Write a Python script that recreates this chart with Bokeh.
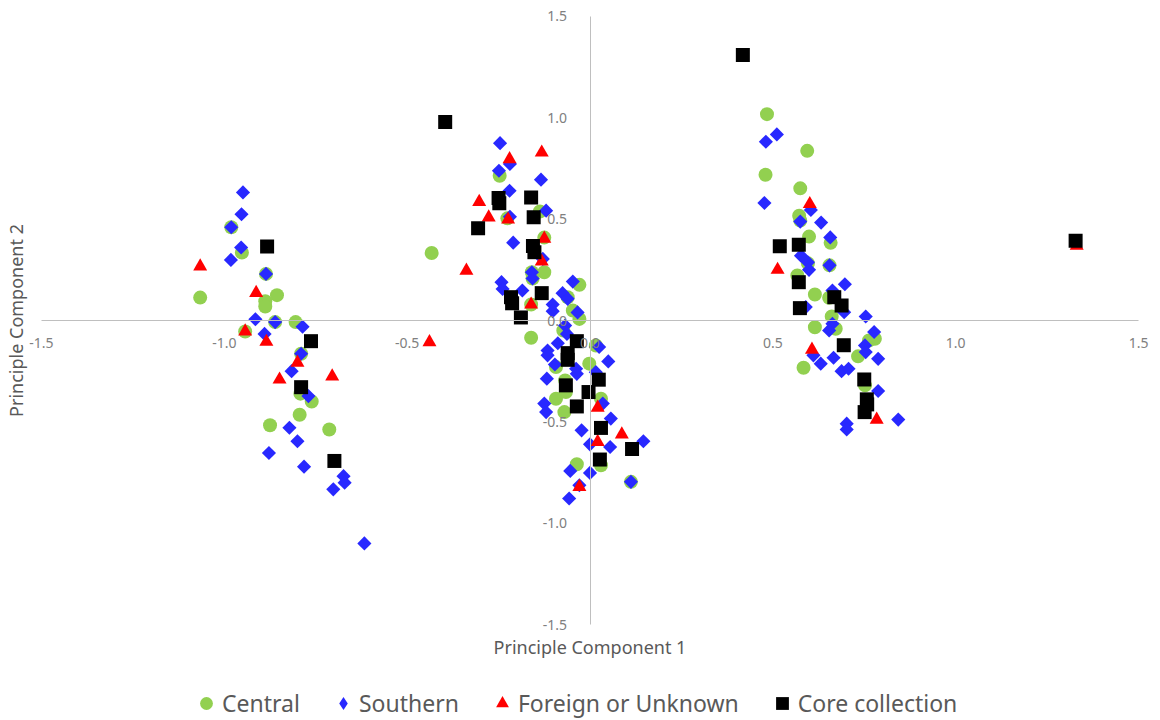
import numpy as np
from bokeh.plotting import figure
from bokeh.layouts import column
from bokeh.models import (ColumnDataSource, LinearAxis, FixedTicker, NumeralTickFormatter,
                          Legend, LegendItem)
from bokeh.embed import file_html
from bokeh.resources import INLINE

# ---------------- data ----------------
central_x = [-0.981, -0.952, -0.886, -1.066, -0.856, -0.888, -0.888, -0.861, -0.805, -0.943,
             -0.790, -0.792, -0.761, -0.794, -0.875, -0.713,
             -0.247, -0.137, -0.226, -0.125, -0.433, -0.125, -0.159, -0.157, -0.029, -0.061,
             -0.161, -0.047, -0.029, -0.073, -0.161, 0.016, -0.002, -0.093, -0.068, -0.066,
             -0.093, -0.070, 0.030, 0.030, -0.036, 0.112,
             0.484, 0.594, 0.480, 0.575, 0.572, 0.575, 0.599, 0.658, 0.596, 0.655,
             0.567, 0.615, 0.654, 0.661, 0.615, 0.672, 0.779, 0.763, 0.733, 0.584, 0.752]
central_y = [0.460, 0.335, 0.230, 0.113, 0.125, 0.095, 0.069, -0.008, -0.008, -0.054,
             -0.164, -0.361, -0.400, -0.465, -0.517, -0.538,
             0.714, 0.538, 0.504, 0.409, 0.333, 0.238, 0.238, 0.207, 0.176, 0.115,
             0.079, 0.049, 0.008, -0.049, -0.085, -0.123, -0.213, -0.230, -0.296, -0.353,
             -0.386, -0.452, -0.386, -0.714, -0.709, -0.796,
             1.018, 0.837, 0.719, 0.652, 0.517, 0.493, 0.414, 0.383, 0.282, 0.272,
             0.222, 0.128, 0.112, 0.020, -0.033, -0.041, -0.090, -0.099, -0.177, -0.233, -0.320]

southern_x = [-0.949, -0.953, -0.981, -0.954, -0.982, -0.886, -0.915, -0.861, -0.786, -0.890,
              -0.790, -0.816, -0.770, -0.822, -0.800, -0.878, -0.782, -0.674, -0.671, -0.702,
              -0.617,
              -0.246, -0.219, -0.249, -0.134, -0.220, -0.120, -0.219, -0.210, -0.129, -0.159,
              -0.157, -0.242, -0.239, -0.185, -0.047, -0.075, -0.061, -0.102, -0.102, -0.034,
              -0.068, -0.063, -0.088, -0.116, -0.116, 0.025, 0.050, -0.096, -0.038, -0.036,
              0.016, -0.118, -0.125, -0.120, 0.035, 0.057, -0.023, 0.146, 0.000, 0.055,
              -0.054, 0.000, 0.112, -0.029, -0.057,
              0.511, 0.481, 0.477, 0.604, 0.575, 0.632, 0.657, 0.577, 0.596, 0.599,
              0.655, 0.697, 0.663, 0.590, 0.695, 0.754, 0.663, 0.654, 0.777, 0.752,
              0.754, 0.611, 0.631, 0.666, 0.788, 0.688, 0.707, 0.788, 0.843, 0.702, 0.702]
southern_y = [0.632, 0.524, 0.460, 0.360, 0.299, 0.230, 0.006, -0.008, -0.031, -0.066,
              -0.164, -0.250, -0.373, -0.529, -0.596, -0.654, -0.721, -0.768, -0.800, -0.833,
              -1.100,
              0.875, 0.772, 0.739, 0.695, 0.640, 0.542, 0.512, 0.384, 0.304, 0.238,
              0.207, 0.189, 0.156, 0.148, 0.192, 0.135, 0.107, 0.079, 0.046, 0.040,
              -0.025, -0.066, -0.112, -0.148, -0.172, -0.131, -0.202, -0.217, -0.238, -0.263,
              -0.255, -0.287, -0.410, -0.452, -0.410, -0.484, -0.542, -0.596, -0.611, -0.624,
              -0.742, -0.752, -0.796, -0.813, -0.878,
              0.918, 0.882, 0.580, 0.545, 0.488, 0.483, 0.410, 0.320, 0.287, 0.250,
              0.272, 0.179, 0.148, 0.066, 0.041, 0.020, -0.016, -0.049, -0.057, -0.123,
              -0.156, -0.172, -0.213, -0.184, -0.189, -0.250, -0.238, -0.348, -0.489, -0.509, -0.538]

foreign_x = [-1.066, -0.913, -0.943, -0.885, -0.800, -0.849, -0.705,
             -0.132, -0.220, -0.303, -0.277, -0.224, -0.125, -0.132, -0.338, -0.161,
             -0.439, 0.021, 0.087, 0.021, -0.029,
             0.601, 0.513, 0.607, 0.784, 1.331]
foreign_y = [0.267, 0.136, -0.054, -0.105, -0.208, -0.291, -0.276,
             0.829, 0.796, 0.585, 0.509, 0.498, 0.404, 0.291, 0.246, 0.079,
             -0.107, -0.430, -0.562, -0.599, -0.821,
             0.575, 0.250, -0.144, -0.489, 0.369]

core_x = [-0.883, -0.763, -0.790, -0.699,
          -0.396, -0.250, -0.248, -0.161, -0.154, -0.306, -0.156, -0.152, -0.132, -0.216,
          -0.213, -0.189, -0.036, -0.061, -0.061, 0.024, -0.066, -0.004, -0.036, 0.030,
          0.115, 0.027,
          0.418, 0.519, 0.571, 0.571, 0.668, 0.688, 0.574, 0.694, 0.750, 0.757, 0.758,
          0.751, 1.328]
core_y = [0.365, -0.102, -0.329, -0.693,
          0.980, 0.604, 0.578, 0.607, 0.509, 0.455, 0.368, 0.337, 0.135, 0.115,
          0.085, 0.015, -0.102, -0.161, -0.194, -0.292, -0.320, -0.353, -0.424, -0.530,
          -0.634, -0.686,
          1.310, 0.366, 0.374, 0.189, 0.115, 0.074, 0.061, -0.122, -0.291, -0.389, -0.414,
          -0.452, 0.394]

ticks = [-1.5, -1.0, -0.5, 0.0, 0.5, 1.0, 1.5]
series_names = ["Central", "Southern", "Foreign or Unknown", "Core collection"]
x_title = "Principle Component 1"
y_title = "Principle Component 2"

FONT = "Noto Sans"
COLORS = ["#92D050", "#2828FF", "#FF0000", "#000000"]

# small padding beyond +-1.5 so edge tick labels are not clipped
XPAD = 14 / 366.0
YPAD = 10 / 203.0

p = figure(width=1160, height=672,
           x_range=(-1.5 - XPAD, 1.5 + XPAD), y_range=(-1.5 - YPAD, 1.5 + YPAD),
           output_backend="svg", toolbar_location=None,
           x_axis_type=None, y_axis_type=None,
           min_border_left=26, min_border_right=8, min_border_top=6, min_border_bottom=38)
p.outline_line_color = None

# axes crossing at zero
xaxis = LinearAxis(fixed_location=0, ticker=FixedTicker(ticks=ticks),
                   formatter=NumeralTickFormatter(format="0.0"), bounds=(-1.5, 1.5))
yaxis = LinearAxis(fixed_location=0, ticker=FixedTicker(ticks=ticks),
                   formatter=NumeralTickFormatter(format="0.0"), bounds=(-1.5, 1.5))
for ax in (xaxis, yaxis):
    ax.axis_line_color = "#BFBFBF"
    ax.axis_line_width = 1
    ax.major_tick_line_color = None
    ax.minor_tick_line_color = None
    ax.major_tick_out = 0
    ax.major_tick_in = 0
    ax.minor_tick_out = 0
    ax.minor_tick_in = 0
    ax.major_label_text_font = FONT
    ax.major_label_text_font_size = "14px"
    ax.major_label_text_color = "#808080"
xaxis.major_label_standoff = 17
yaxis.major_label_standoff = 23
p.add_layout(xaxis, "below")
p.add_layout(yaxis, "left")

# axis titles (outer axes without ticks)
xt = LinearAxis(ticker=FixedTicker(ticks=[]), axis_label=x_title)
yt = LinearAxis(ticker=FixedTicker(ticks=[]), axis_label=y_title)
for ax in (xt, yt):
    ax.axis_line_color = None
    ax.major_tick_line_color = None
    ax.minor_tick_line_color = None
    ax.major_tick_out = 0
    ax.minor_tick_out = 0
    ax.major_label_standoff = 0
    ax.axis_label_text_font = FONT
    ax.axis_label_text_font_size = "18px"
    ax.axis_label_text_font_style = "normal"
    ax.axis_label_text_color = "#595959"
xt.axis_label_standoff = 0
yt.axis_label_standoff = 0
p.add_layout(xt, "below")
p.add_layout(yt, "left")

src_c = ColumnDataSource(dict(x=central_x, y=central_y))
src_s = ColumnDataSource(dict(x=southern_x, y=southern_y))
src_f = ColumnDataSource(dict(x=foreign_x, y=foreign_y))
src_k = ColumnDataSource(dict(x=core_x, y=core_y))

p.scatter("x", "y", source=src_c, marker="circle", size=14,
          fill_color=COLORS[0], line_color=None)
p.scatter("x", "y", source=src_s, marker="square", size=10, angle=np.pi / 4,
          fill_color=COLORS[1], line_color=None)
p.scatter("x", "y", source=src_f, marker="triangle", size=14,
          fill_color=COLORS[2], line_color=None)
p.scatter("x", "y", source=src_k, marker="square", size=14,
          fill_color=COLORS[3], line_color=None)

# ---------------- legend strip ----------------
lf = figure(width=1160, height=48, x_range=(0, 1), y_range=(0, 1),
            output_backend="svg", toolbar_location=None,
            x_axis_type=None, y_axis_type=None,
            min_border_left=0, min_border_right=0, min_border_top=0, min_border_bottom=0)
lf.outline_line_color = None
markers = ["circle", "diamond", "triangle", "square"]
items = []
for name, mk, col in zip(series_names, markers, COLORS):
    r = lf.scatter(x=[np.nan], y=[np.nan], marker=mk, fill_color=col, line_color=None)
    items.append(LegendItem(label=name, renderers=[r]))
legend = Legend(items=items, orientation="horizontal", location=(163, 1))
legend.glyph_width = 32
legend.glyph_height = 32
legend.label_standoff = -5
legend.spacing = 27
legend.padding = 0
legend.margin = 0
legend.border_line_color = None
legend.background_fill_alpha = 0
legend.label_text_font = FONT
legend.label_text_font_size = "23px"
legend.label_text_color = "#595959"
lf.add_layout(legend, "center")

layout = column(p, lf, spacing=0)
open("out.html", "w").write(file_html(layout, INLINE))
